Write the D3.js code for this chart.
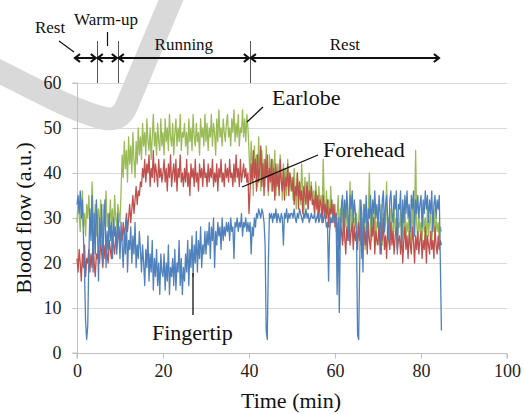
<!DOCTYPE html>
<html>
<head>
<meta charset="utf-8">
<script src="https://cdn.jsdelivr.net/npm/d3@7"></script>
<style>
  html, body { margin: 0; padding: 0; background: #fff; }
  svg { display: block; }
  text { font-family: 'Liberation Serif' !important; }
</style>
</head>
<body>
<svg id="chart" width="524" height="414" font-family="Liberation Serif"></svg>
<script>
// sample spacing of the recordings (min)
const SAMPLE_MIN = 0.25

// Earlobe blood flow (a.u.), one row = 5 min
const earlobe = [
  29, 34, 31, 27, 33, 36, 28, 31, 26, 33, 30, 35, 29, 27, 38, 31, 28, 33, 26, 30,
  32, 27, 34, 29, 25, 33, 30, 36, 28, 31, 27, 34, 29, 32, 26, 35, 30, 28, 33, 31,
  29, 36, 44, 39, 47, 41, 45, 38, 48, 42, 46, 40, 49, 43, 39, 47, 42, 50, 44, 48,
  43, 51, 46, 49, 44, 52, 47, 45, 50, 43, 48, 53, 46, 49, 44, 51, 47, 45, 52, 46,
  49, 44, 52, 47, 50, 45, 53, 48, 46, 51, 44, 49, 52, 46, 50, 47, 53, 45, 49, 48,
  51, 46, 49, 44, 52, 47, 50, 45, 53, 48, 46, 51, 47, 49, 44, 52, 48, 50, 46, 53,
  47, 51, 45, 50, 48, 53, 46, 51, 49, 44, 52, 47, 54, 48, 50, 46, 52, 49, 47, 51,
  53, 48, 50, 46, 52, 49, 54, 47, 51, 48, 53, 46, 50, 49, 54, 48, 52, 47, 53, 50,
  45, 38, 47, 42, 35, 46, 40, 44, 37, 48, 41, 36, 45, 39, 43, 37, 46, 40, 35, 44,
  41, 36, 43, 38, 45, 35, 40, 42, 37, 44, 39, 34, 42, 38, 41, 35, 43, 37, 40, 36,
  39, 34, 41, 36, 32, 40, 35, 38, 33, 42, 36, 31, 39, 35, 37, 32, 40, 34, 38, 33,
  36, 31, 38, 34, 30, 37, 33, 35, 29, 43, 34, 30, 36, 32, 34, 28, 37, 31, 33, 29,
  33, 27, 31, 35, 26, 32, 29, 34, 25, 31, 28, 33, 26, 30, 38, 27, 32, 25, 30, 28,
  31, 25, 29, 34, 24, 30, 27, 33, 23, 29, 26, 32, 40, 28, 25, 31, 27, 34, 24, 29,
  30, 25, 28, 33, 24, 31, 27, 29, 38, 26, 30, 24, 32, 28, 25, 33, 27, 30, 23, 29,
  28, 32, 24, 30, 26, 33, 25, 29, 27, 31, 24, 28, 32, 26, 30, 45, 29, 25, 31, 27,
  29, 25, 32, 27, 30, 24, 33, 26, 29, 31, 25, 28, 32, 26, 30, 27, 29, 25, 28, 27
]

// Forehead blood flow (a.u.)
const forehead = [
  21, 18, 23, 20, 16, 22, 19, 24, 17, 21, 20, 23, 18, 22, 19, 25, 20, 17, 22, 21,
  23, 20, 25, 22, 19, 24, 21, 26, 22, 20, 25, 23, 21, 27, 24, 22, 26, 23, 25, 28,
  24, 27, 25, 29, 26, 28, 31, 27, 30, 33, 29, 32, 35, 31, 34, 37, 33, 36, 35, 38,
  37, 41, 39, 43, 38, 42, 40, 44, 37, 41, 39, 45, 38, 42, 40, 37, 43, 39, 41, 38,
  40, 43, 38, 41, 36, 42, 39, 44, 37, 40, 42, 38, 43, 36, 41, 39, 44, 38, 40, 37,
  41, 38, 43, 37, 40, 35, 42, 39, 41, 37, 43, 38, 40, 36, 42, 39, 41, 37, 43, 39,
  40, 37, 42, 38, 41, 39, 43, 37, 40, 38, 42, 36, 41, 39, 43, 38, 40, 37, 42, 39,
  41, 38, 43, 39, 40, 37, 42, 38, 44, 39, 41, 37, 43, 38, 40, 42, 39, 41, 38, 40,
  31, 36, 42, 38, 45, 39, 43, 36, 44, 38, 41, 46, 37, 42, 35, 43, 39, 44, 36, 41,
  38, 43, 36, 41, 34, 42, 37, 40, 35, 43, 38, 36, 41, 34, 39, 37, 42, 35, 40, 38,
  36, 39, 33, 37, 35, 40, 32, 38, 34, 36, 31, 37, 35, 33, 38, 32, 36, 34, 37, 33,
  34, 31, 36, 32, 35, 30, 34, 33, 29, 35, 31, 33, 30, 34, 28, 32, 31, 34, 29, 33,
  28, 31, 25, 29, 23, 30, 27, 24, 31, 26, 22, 28, 25, 30, 24, 27, 29, 23, 28, 25,
  27, 23, 29, 25, 30, 21, 26, 28, 24, 27, 22, 29, 25, 23, 28, 26, 30, 22, 27, 25,
  24, 29, 22, 27, 25, 30, 23, 26, 21, 28, 25, 23, 29, 24, 27, 22, 26, 28, 23, 25,
  26, 22, 27, 20, 25, 28, 23, 26, 21, 27, 24, 22, 28, 25, 20, 26, 23, 27, 22, 25,
  27, 21, 25, 23, 28, 20, 26, 24, 22, 27, 23, 25, 21, 28, 24, 22, 26, 23, 25, 24
]

// Fingertip blood flow (a.u.)
const fingertip = [
  33, 35, 31, 36, 30, 34, 26, 18, 7, 3, 6, 21, 32, 25, 35, 18, 31, 22, 34, 29,
  16, 30, 24, 33, 20, 28, 34, 19, 27, 23, 31, 25, 29, 21, 30, 26, 28, 22, 31, 27,
  21, 29, 24, 19, 27, 22, 30, 18, 25, 23, 28, 20, 26, 22, 29, 19, 24, 21, 27, 23,
  18, 24, 20, 15, 23, 19, 26, 16, 22, 18, 25, 14, 21, 17, 23, 15, 20, 13, 22, 18,
  17, 22, 14, 20, 16, 24, 13, 19, 17, 21, 15, 23, 14, 20, 18, 25, 15, 21, 13, 19,
  16, 22, 18, 25, 15, 23, 19, 26, 17, 24, 20, 27, 18, 25, 21, 28, 19, 24, 22, 27,
  22, 27, 24, 29, 21, 28, 25, 30, 19, 27, 24, 29, 26, 28, 23, 30, 25, 28, 26, 29,
  27, 29, 25, 30, 27, 28, 21, 29, 28, 30, 27, 29, 28, 31, 26, 29, 28, 30, 27, 29,
  27, 29, 22, 28, 26, 30, 28, 31, 30, 32, 31, 30, 32, 31, 29, 24, 5, 3, 20, 31,
  30, 31, 29, 31, 30, 32, 29, 31, 30, 29, 31, 30, 24, 31, 30, 32, 29, 31, 30, 31,
  31, 30, 32, 30, 29, 31, 30, 32, 31, 30, 29, 31, 30, 32, 30, 31, 29, 30, 31, 30,
  30, 31, 29, 30, 31, 29, 30, 31, 30, 29, 31, 30, 28, 29, 16, 27, 30, 29, 31, 30,
  29, 31, 13, 30, 9, 27, 33, 35, 28, 34, 30, 36, 31, 25, 35, 32, 36, 29, 34, 31,
  27, 4, 3, 20, 34, 31, 18, 33, 29, 35, 24, 32, 30, 35, 28, 34, 31, 36, 30, 33,
  28, 35, 31, 22, 34, 36, 27, 33, 35, 30, 25, 34, 36, 31, 29, 35, 32, 36, 22, 33,
  32, 36, 24, 34, 29, 35, 31, 36, 30, 33, 27, 35, 32, 36, 26, 34, 31, 35, 30, 33,
  35, 28, 34, 31, 36, 32, 35, 29, 34, 31, 36, 27, 33, 35, 30, 34, 32, 35, 20, 5
]

const seriesNames = ['Earlobe', 'Forehead', 'Fingertip']
const seriesColors = ['#9bbb59', '#c0504d', '#4f81bd']

const xTicks = [0, 20, 40, 60, 80, 100]
const yTicks = [0, 10, 20, 30, 40, 50, 60]

// exercise protocol (min) and labels
const phaseBounds = [-0.7, 4.6, 9.5, 40.2, 84.4]
const phaseLabels = ['Rest', 'Warm-up', 'Running', 'Rest']

const SERIF = 'Liberation Serif'

const svg = d3.select('#chart')
const margin = { left: 77, top: 83 }
const width = 430
const height = 270

// small helper so every label gets the same face
function label (parent, txt, size) {
  return parent.append('text')
    .attr('font-family', SERIF)
    .style('font-family', `'${SERIF}'`)
    .attr('font-size', size)
    .attr('fill', '#111')
    .text(txt)
}

// faint watermark stroke behind the chart
svg.append('path')
  .attr('d', 'M -12,66 C 30,86 70,110 103,118 C 116,121 122,117 127,105 L 176,-12')
  .attr('fill', 'none')
  .attr('stroke', '#d9d9d9')
  .attr('stroke-width', 23)
  .attr('stroke-linejoin', 'round')

const x = d3.scaleLinear().domain([0, 100]).range([margin.left, margin.left + width])
const y = d3.scaleLinear().domain([0, 60]).range([margin.top + height, margin.top])

// grid
svg.append('g')
  .selectAll('line')
  .data(yTicks.filter(d => d > 0))
  .join('line')
  .attr('x1', x(0)).attr('x2', x(100))
  .attr('y1', d => Math.round(y(d)) + 0.5)
  .attr('y2', d => Math.round(y(d)) + 0.5)
  .attr('stroke', '#d9d9d9')

// axes
const xAxis = svg.append('g')
  .attr('transform', `translate(0,${Math.round(y(0)) + 0.5})`)
  .call(d3.axisBottom(x).tickValues(xTicks).tickSize(5).tickPadding(6).tickFormat(d3.format('d')))
const yAxis = svg.append('g')
  .attr('transform', `translate(${Math.round(x(0)) + 0.5},0)`)
  .call(d3.axisLeft(y).tickValues(yTicks).tickSize(5).tickPadding(11).tickFormat(d3.format('d')))

for (const ax of [xAxis, yAxis]) {
  ax.attr('font-family', SERIF).attr('font-size', 18)
  ax.select('.domain').attr('stroke', '#bfbfbf')
  ax.selectAll('.tick line').attr('stroke', '#bfbfbf')
  ax.selectAll('.tick text').attr('fill', '#222').style('font-family', `'${SERIF}'`)
}
xAxis.select('.domain').attr('d', `M${x(0)},5V0H${x(100)}V5`)
yAxis.select('.domain').attr('d', `M-5,${y(60)}H0V${y(0)}H-5`)

// series lines
const line = d3.line()
  .x((d, i) => x(i * SAMPLE_MIN))
  .y(d => y(d))

;[earlobe, forehead, fingertip].forEach((vals, i) => {
  svg.append('path')
    .datum(vals)
    .attr('fill', 'none')
    .attr('stroke', seriesColors[i])
    .attr('stroke-width', 1.3)
    .attr('stroke-linejoin', 'round')
    .attr('d', line)
})

// axis titles
label(svg, 'Time (min)', 22)
  .attr('x', 291).attr('y', 408)
  .attr('text-anchor', 'middle')

label(svg, 'Blood flow (a.u.)', 22)
  .attr('transform', 'translate(31,218) rotate(-90)')
  .attr('text-anchor', 'middle')

// series labels with leader lines
const seriesLabels = [
  { name: seriesNames[0], tx: 272, ty: 105, line: [[247, 122], [263, 107]] },
  { name: seriesNames[1], tx: 323, ty: 157, line: [[242, 187], [318, 155]] },
  { name: seriesNames[2], tx: 152, ty: 340, line: [[193, 273], [193, 315]] }
]
seriesLabels.forEach(s => {
  svg.append('line')
    .attr('x1', s.line[0][0]).attr('y1', s.line[0][1])
    .attr('x2', s.line[1][0]).attr('y2', s.line[1][1])
    .attr('stroke', '#111').attr('stroke-width', 1.3)
  label(svg, s.name, 22).attr('x', s.tx).attr('y', s.ty)
})

// protocol arrows at the top
const arrowY = 58
const protocol = svg.append('g')
protocol.selectAll('line.sep')
  .data(phaseBounds.slice(1, -1))
  .join('line')
  .attr('class', 'sep')
  .attr('x1', d => Math.round(x(d)) + 0.5).attr('x2', d => Math.round(x(d)) + 0.5)
  .attr('y1', 41).attr('y2', y(60))
  .attr('stroke', '#555')

phaseLabels.forEach((lab, i) => {
  const x1 = x(phaseBounds[i])
  const x2 = x(phaseBounds[i + 1])
  protocol.append('line')
    .attr('x1', x1 + 1).attr('x2', x2 - 1)
    .attr('y1', arrowY).attr('y2', arrowY)
    .attr('stroke', '#111').attr('stroke-width', 2)
  protocol.append('path')
    .attr('d', `M${x1 + 6},${arrowY - 4}L${x1 + 1},${arrowY}L${x1 + 6},${arrowY + 4}` +
      `M${x2 - 6},${arrowY - 4}L${x2 - 1},${arrowY}L${x2 - 6},${arrowY + 4}`)
    .attr('fill', 'none')
    .attr('stroke', '#111').attr('stroke-width', 2.2)
})

const phaseText = [
  { x: 50, y: 33 },
  { x: 106, y: 25 },
  { x: (x(phaseBounds[2]) + x(phaseBounds[3])) / 2, y: 50 },
  { x: (x(phaseBounds[3]) + x(phaseBounds[4])) / 2, y: 50 }
]
phaseLabels.forEach((lab, i) => {
  label(protocol, lab, 17)
    .attr('x', phaseText[i].x).attr('y', phaseText[i].y)
    .attr('text-anchor', 'middle')
})
protocol.append('line')
  .attr('x1', 59).attr('y1', 41).attr('x2', 74).attr('y2', 52)
  .attr('stroke', '#111').attr('stroke-width', 1.2)
protocol.append('line')
  .attr('x1', 107.5).attr('y1', 32).attr('x2', 107.5).attr('y2', 46)
  .attr('stroke', '#111').attr('stroke-width', 1.2)
</script>
</body>
</html>
